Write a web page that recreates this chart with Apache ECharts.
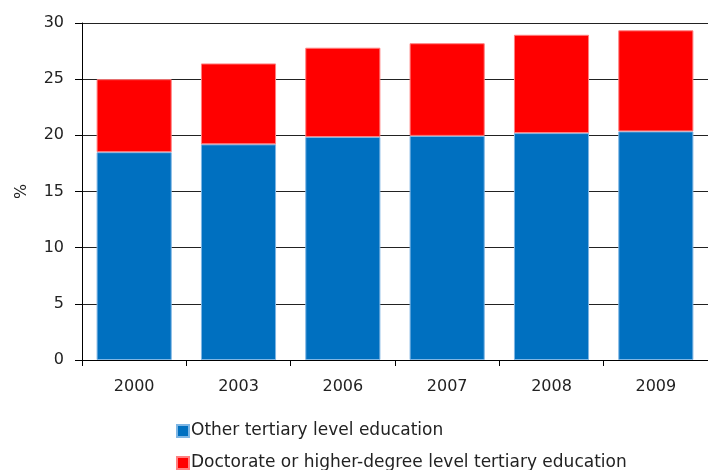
<!DOCTYPE html>
<html>
<head>
<meta charset="utf-8">
<script src="https://cdn.jsdelivr.net/npm/echarts@6/dist/echarts.min.js"></script>
<style>html,body{margin:0;padding:0;background:#fff}#c{width:708px;height:470px}</style>
</head>
<body>
<div id="c"></div>
<script>
const categories = ['2000', '2003', '2006', '2007', '2008', '2009'];
const otherTertiary = [18.5, 19.2, 19.85, 19.95, 20.2, 20.35];
const doctorate = [6.5, 7.2, 7.95, 8.25, 8.75, 9.0];
const seriesNames = ['Other tertiary level education', 'Doctorate or higher-degree level tertiary education'];

const chart = echarts.init(document.getElementById('c'), null, {renderer: 'canvas'});
const font = 'DejaVu Sans, Verdana, sans-serif';
const legendText = {fontFamily: font, fontSize: 17, color: '#222', lineHeight: 20, padding: [0, 0, 0, -3]};
chart.setOption({
  animation: false,
  textStyle: {fontFamily: font},
  grid: {left: 82, right: 0, top: 23, bottom: 110, containLabel: false},
  legend: [
    {left: 171, top: 416, itemWidth: 12, itemHeight: 12, icon: 'rect',
     textStyle: legendText, data: [seriesNames[0]], selectedMode: false},
    {left: 171, top: 448, itemWidth: 12, itemHeight: 12, icon: 'rect',
     textStyle: legendText, data: [seriesNames[1]], selectedMode: false}
  ],
  xAxis: {
    type: 'category', data: categories,
    axisLine: {lineStyle: {color: '#000', width: 1}},
    axisTick: {show: true, length: 6, lineStyle: {color: '#000'}},
    axisLabel: {fontSize: 16, color: '#222', margin: 19, fontFamily: font}
  },
  yAxis: {
    type: 'value', min: 0, max: 30, interval: 5,
    name: '%', nameLocation: 'middle', nameGap: 52, nameRotate: 90,
    nameTextStyle: {fontSize: 16, color: '#222', fontFamily: font},
    axisLine: {show: true, lineStyle: {color: '#000', width: 1}},
    axisTick: {show: true, length: 7, lineStyle: {color: '#000'}},
    axisLabel: {fontSize: 16, color: '#222', margin: 18, fontFamily: font},
    splitLine: {show: true, lineStyle: {color: '#222', width: 1}}
  },
  series: [
    {name: seriesNames[0], type: 'bar', stack: 'a', data: otherTertiary, barCategoryGap: '28%',
     itemStyle: {color: '#0070c0', borderColor: '#7fb6e4', borderWidth: 1}},
    {name: seriesNames[1], type: 'bar', stack: 'a', data: doctorate, barCategoryGap: '28%',
     itemStyle: {color: '#ff0000', borderColor: '#ff8080', borderWidth: 1}}
  ]
});
</script>
</body>
</html>
